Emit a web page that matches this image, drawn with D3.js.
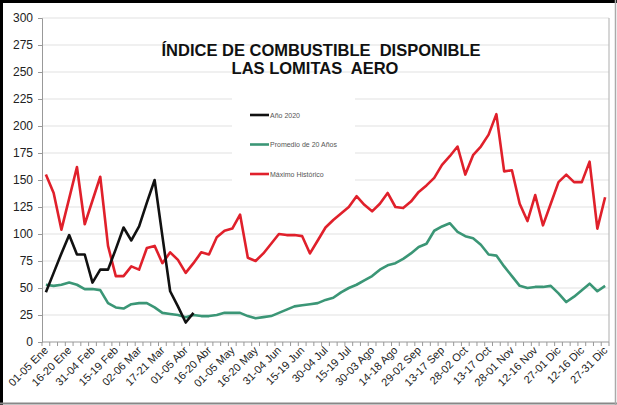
<!DOCTYPE html>
<html>
<head>
<meta charset="utf-8">
<script src="https://cdn.jsdelivr.net/npm/d3@7"></script>
<style>
  body { margin: 0; background: #fff; }
  svg { display: block; font-family: "Liberation Sans", Arial, sans-serif; }
</style>
</head>
<body>
<div id="chart"></div>
<script>
// 5-day periods of the year
const periods = [
  "01-05 Ene","06-10 Ene","11-15 Ene","16-20 Ene","21-25 Ene","26-30 Ene",
  "31-04 Feb","05-09 Feb","10-14 Feb","15-19 Feb","20-24 Feb","25-01 Mar",
  "02-06 Mar","07-11 Mar","12-16 Mar","17-21 Mar","22-26 Mar","27-31 Mar",
  "01-05 Abr","06-10 Abr","11-15 Abr","16-20 Abr","21-25 Abr","26-30 Abr",
  "01-05 May","06-10 May","11-15 May","16-20 May","21-25 May","26-30 May",
  "31-04 Jun","05-09 Jun","10-14 Jun","15-19 Jun","20-24 Jun","25-29 Jun",
  "30-04 Jul","05-09 Jul","10-14 Jul","15-19 Jul","20-24 Jul","25-29 Jul",
  "30-03 Ago","04-08 Ago","09-13 Ago","14-18 Ago","19-23 Ago","24-28 Ago",
  "29-02 Sep","03-07 Sep","08-12 Sep","13-17 Sep","18-22 Sep","23-27 Sep",
  "28-02 Oct","03-07 Oct","08-12 Oct","13-17 Oct","18-22 Oct","23-27 Oct",
  "28-01 Nov","02-06 Nov","07-11 Nov","12-16 Nov","17-21 Nov","22-26 Nov",
  "27-01 Dic","02-06 Dic","07-11 Dic","12-16 Dic","17-21 Dic","22-26 Dic",
  "27-31 Dic"
];

// labels shown on the x axis
const tickLabels = [
  "01-05 Ene","16-20 Ene","31-04 Feb","15-19 Feb","02-06 Mar","17-21 Mar",
  "01-05 Abr","16-20 Abr","01-05 May","16-20 May","31-04 Jun","15-19 Jun",
  "30-04 Jul","15-19 Jul","30-03 Ago","14-18 Ago","29-02 Sep","13-17 Sep",
  "28-02 Oct","13-17 Oct","28-01 Nov","12-16 Nov","27-01 Dic","12-16 Dic",
  "27-31 Dic"
];

const yTicks = [0, 25, 50, 75, 100, 125, 150, 175, 200, 225, 250, 275, 300];

const anio2020 = [46, 64, 82, 99, 81, 81, 55, 67, 67, 86, 106, 94, 107, 129, 150, 98, 47, 33, 18, 27];

const promedio20 = [
  53, 52, 53, 55, 53, 49, 49, 48, 36, 32, 31, 35, 36, 36, 32, 27, 26, 25, 23, 25,
  24, 24, 25, 27, 27, 27, 24, 22, 23, 24, 27, 30, 33, 34, 35, 36, 39, 41, 46, 50,
  53, 57, 61, 67, 71, 73, 77, 82, 88, 91, 103, 107, 110, 102, 98, 96, 90, 81, 80, 70,
  61, 52, 50, 51, 51, 52, 45, 37, 42, 48, 54, 47, 52
];

const maximoHist = [
  155, 138, 104, 133, 162, 109, 131, 153, 89, 61, 61, 70, 67, 87, 89, 73, 83, 76, 64, 73,
  83, 81, 97, 103, 105, 118, 78, 75, 82, 91, 100, 99, 99, 98, 82, 94, 106, 113, 119, 125,
  135, 127, 121, 128, 138, 125, 124, 130, 139, 145, 152, 164, 172, 181, 155, 173, 181, 192, 211, 158,
  159, 128, 112, 136, 108, 128, 148, 155, 148, 148, 167, 105, 134
];

const seriesNames = ["Año 2020", "Promedio de 20 Años", "Máximo Histórico"];
const seriesColors = ["#111111", "#3b9676", "#e0202b"];

const W = 617, H = 405;
const margin = {top: 18, right: 8, bottom: 63, left: 42};
const width = W - margin.left - margin.right,
      height = H - margin.top - margin.bottom;

const svg = d3.select("#chart").append("svg")
    .attr("width", W)
    .attr("height", H);

// outer frame
svg.append("rect").attr("x", 0).attr("y", 0).attr("width", W).attr("height", H).attr("fill", "#fff");
svg.append("line").attr("x1", 1).attr("x2", W).attr("y1", 1.5).attr("y2", 1.5).attr("stroke", "#000").attr("stroke-width", 3);
svg.append("line").attr("x1", 1.5).attr("x2", 1.5).attr("y1", 0).attr("y2", H).attr("stroke", "#000").attr("stroke-width", 3);
svg.append("line").attr("x1", 0).attr("x2", W).attr("y1", H - 1.5).attr("y2", H - 1.5).attr("stroke", "#888").attr("stroke-width", 2);
svg.append("line").attr("x1", W - 1.5).attr("x2", W - 1.5).attr("y1", 0).attr("y2", H).attr("stroke", "#aaa").attr("stroke-width", 1.5);

const g = svg.append("g").attr("transform", `translate(${margin.left},${margin.top})`);

const x = d3.scaleBand().domain(periods).range([0, width]).padding(0);
const y = d3.scaleLinear().domain([0, 300]).range([height, 0]);
const cx = d => x(d) + x.bandwidth() / 2;

// gridlines
g.append("g").selectAll("line")
  .data(yTicks.filter(t => t > 0))
  .join("line")
  .attr("x1", 0).attr("x2", width)
  .attr("y1", d => y(d)).attr("y2", d => y(d))
  .attr("stroke", "#e2e2e2").attr("stroke-width", 1.2);

// plot right border
g.append("line").attr("x1", width).attr("x2", width).attr("y1", 0).attr("y2", height)
  .attr("stroke", "#bbb").attr("stroke-width", 1.2);

// y axis
const yAxis = g.append("g")
  .call(d3.axisLeft(y).tickValues(yTicks).tickSize(4).tickPadding(5));
yAxis.select(".domain").attr("stroke", "#999");
yAxis.selectAll(".tick line").attr("stroke", "#999");
yAxis.selectAll("text").attr("font-size", 12).attr("fill", "#222")
  .attr("font-family", "Liberation Sans, Arial, sans-serif");

// x axis: minor ticks between every period
const xAxisG = g.append("g").attr("transform", `translate(0,${height})`);
xAxisG.append("line").attr("x1", 0).attr("x2", width).attr("stroke", "#999").attr("stroke-width", 1.2);
xAxisG.selectAll(".minor")
  .data(d3.range(periods.length + 1))
  .join("line")
  .attr("class", "minor")
  .attr("x1", i => i * x.step()).attr("x2", i => i * x.step())
  .attr("y1", 0).attr("y2", 4)
  .attr("stroke", "#999");
xAxisG.selectAll(".lbl")
  .data(tickLabels)
  .join("text")
  .attr("class", "lbl")
  .attr("transform", d => `translate(${cx(d) + 3},${9}) rotate(-45)`)
  .attr("text-anchor", "end")
  .attr("font-size", 11)
  .attr("fill", "#222")
  .text(d => d);

// lines
const allSeries = [anio2020, promedio20, maximoHist];
const line = d3.line()
  .x((d, i) => cx(periods[i]))
  .y(d => y(d));

// legend box (drawn before lines, covers gridlines)
const legend = g.append("g").attr("transform", "translate(190,80)");
legend.append("rect").attr("x", 0).attr("y", 0).attr("width", 123).attr("height", 92).attr("fill", "#fff");

[2, 1, 0].forEach(k => {
  g.append("path")
    .datum(allSeries[k])
    .attr("fill", "none")
    .attr("stroke", seriesColors[k])
    .attr("stroke-width", 2.6)
    .attr("stroke-linejoin", "round")
    .attr("d", line);
});

seriesNames.forEach((name, k) => {
  const row = legend.append("g").attr("transform", `translate(0,${17 + k * 29.5})`);
  row.append("line").attr("x1", 18).attr("x2", 37).attr("y1", 0).attr("y2", 0)
    .attr("stroke", seriesColors[k]).attr("stroke-width", 2.6);
  row.append("text").attr("x", 38).attr("y", 2.5)
    .attr("font-size", 7).attr("fill", "#555").text(name);
});

// title
const title = svg.append("g").attr("font-weight", "bold").attr("fill", "#111")
  .attr("font-size", 16.5);
title.append("text").attr("x", 321).attr("y", 56).attr("text-anchor", "middle")
  .attr("xml:space", "preserve").text("ÍNDICE DE COMBUSTIBLE  DISPONIBLE");
title.append("text").attr("x", 315).attr("y", 73.5).attr("text-anchor", "middle")
  .attr("xml:space", "preserve").text("LAS LOMITAS  AERO");
</script>
</body>
</html>
